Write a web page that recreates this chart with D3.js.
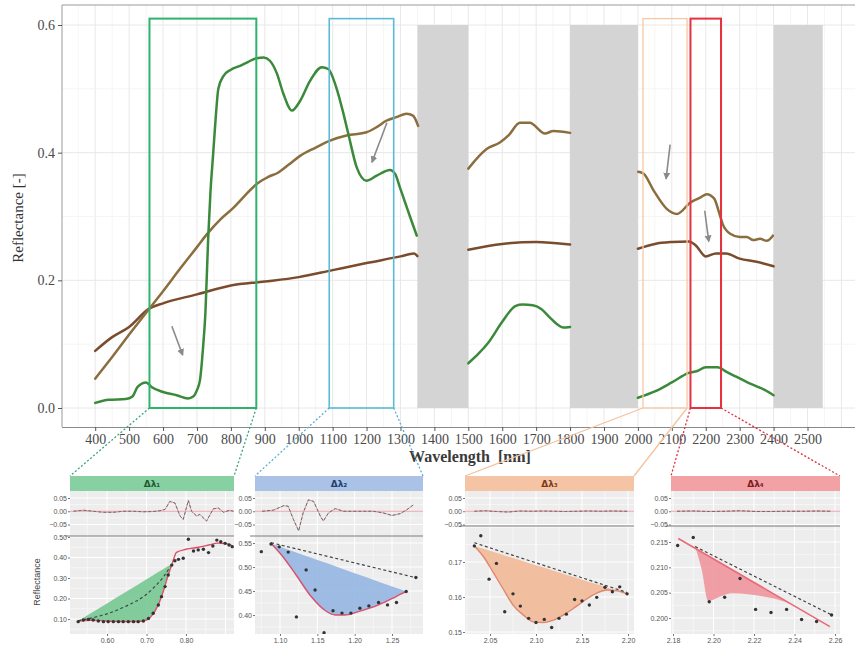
<!DOCTYPE html>
<html><head><meta charset="utf-8">
<script src="https://cdn.jsdelivr.net/npm/d3@7"></script>
<style>body{margin:0;background:#fff}svg{display:block}</style>
</head><body>
<svg id="c" width="856" height="649"></svg>
<script>
// ---------- main chart data ----------
const xTicks = d3.range(400, 2600, 100);
const yTicks = [0, 0.2, 0.4, 0.6];
const greenW = [400,440,490,510,525,550,566,600,640,674,689,700,709,718,725,733,740,748,756,763,778,800,827,850,876,897,915,935,955,980,1004,1033,1068,1087,1112,1130,1146,1171,1200,1230,1269,1285,1298,1315,1328,1348,1420,1500,1530,1560,1600,1640,1660,1690,1715,1740,1765,1780,1800,1900,2000,2050,2100,2150,2175,2200,2235,2260,2290,2320,2350,2375,2400];
const greenR = [0.008,0.013,0.014,0.018,0.033,0.040,0.033,0.025,0.020,0.015,0.018,0.028,0.044,0.095,0.150,0.265,0.340,0.400,0.460,0.500,0.520,0.530,0.536,0.542,0.548,0.549,0.544,0.525,0.492,0.466,0.481,0.512,0.534,0.531,0.500,0.465,0.430,0.377,0.356,0.364,0.373,0.366,0.346,0.320,0.300,0.270,null,0.070,0.085,0.103,0.135,0.160,0.162,0.161,0.155,0.142,0.130,0.126,0.127,null,0.016,0.026,0.040,0.055,0.058,0.064,0.064,0.057,0.049,0.041,0.034,0.028,0.020];
const oliveW = [400,450,500,560,600,650,700,729,770,808,840,876,910,940,970,1004,1050,1092,1141,1200,1230,1258,1290,1318,1337,1352,1420,1500,1555,1593,1620,1652,1681,1726,1751,1800,1900,2001,2017,2046,2085,2115,2155,2185,2203,2225,2240,2250,2272,2300,2321,2340,2360,2380,2398];
const oliveR = [0.046,0.080,0.115,0.156,0.183,0.218,0.252,0.272,0.296,0.314,0.332,0.351,0.362,0.369,0.381,0.395,0.408,0.419,0.427,0.432,0.440,0.450,0.456,0.461,0.458,0.442,null,0.375,0.406,0.416,0.428,0.447,0.447,0.430,0.434,0.431,null,0.370,0.367,0.341,0.312,0.304,0.322,0.330,0.335,0.328,0.305,0.288,0.273,0.268,0.268,0.263,0.265,0.262,0.270];
const brownW = [400,450,500,560,600,700,800,900,1000,1100,1200,1300,1340,1350,1420,1500,1600,1700,1800,1900,2000,2050,2100,2150,2170,2200,2230,2260,2300,2350,2400];
const brownR = [0.0895,0.111,0.127,0.156,0.164,0.178,0.192,0.198,0.205,0.216,0.227,0.2375,0.242,0.238,null,0.248,0.257,0.260,0.256,null,0.2495,0.257,0.260,0.261,0.255,0.2375,0.242,0.242,0.234,0.229,0.222];
const bandLo = [1350, 1800, 2400];
const bandHi = [1500, 2000, 2545];
const boxLo = [560, 1090, 2015, 2155];
const boxHi = [875, 1280, 2145, 2245];
const boxTop = 0.61;
const arrowFromW = [626, 1260, 2095, 2197];
const arrowFromR = [0.128, 0.447, 0.4125, 0.309];
const arrowToW = [658, 1216, 2083, 2209];
const arrowToR = [0.083, 0.385, 0.359, 0.261];

// ---------- zoom panels data ----------
const stripLabels = ["Δλ₁", "Δλ₂", "Δλ₃", "Δλ₄"];
const p1XTicks = [0.6, 0.7, 0.8], p1YTicks = [0.1, 0.2, 0.3, 0.4, 0.5];
const p2XTicks = [1.10, 1.15, 1.20, 1.25], p2YTicks = [0.40, 0.45, 0.50, 0.55];
const p3XTicks = [2.05, 2.10, 2.15, 2.20], p3YTicks = [0.15, 0.16, 0.17];
const p4XTicks = [2.18, 2.20, 2.22, 2.24, 2.26], p4YTicks = [0.200, 0.205, 0.210, 0.215];
const resTicks = [-0.05, 0, 0.05];

const p1DotW = [0.527,0.540,0.553,0.565,0.578,0.591,0.603,0.616,0.629,0.641,0.654,0.667,0.679,0.692,0.705,0.717,0.730,0.738,0.747,0.755,0.764,0.772,0.781,0.793,0.806,0.819,0.831,0.844,0.857,0.868,0.878,0.888,0.899,0.909,0.917];
const p1DotR = [0.087,0.095,0.098,0.095,0.090,0.087,0.087,0.087,0.087,0.087,0.087,0.087,0.087,0.090,0.103,0.128,0.168,0.209,0.258,0.315,0.363,0.384,0.391,0.396,0.489,0.432,0.437,0.440,0.424,0.456,0.485,0.477,0.469,0.461,0.453];
const p1FitW = [0.527,0.56,0.60,0.64,0.68,0.70,0.715,0.73,0.745,0.755,0.765,0.776,0.80,0.832,0.86,0.88,0.90,0.917];
const p1FitR = [0.090,0.094,0.090,0.088,0.088,0.095,0.12,0.17,0.25,0.315,0.37,0.425,0.44,0.45,0.462,0.47,0.468,0.458];
const p1HullW = [0.527, 0.765], p1HullR = [0.090, 0.37];
const p1DashW = [0.527,0.574,0.616,0.654,0.692,0.717,0.743,0.760];
const p1DashR = [0.092,0.111,0.136,0.168,0.209,0.250,0.306,0.355];
const p1ResW = [0.515,0.540,0.565,0.591,0.616,0.641,0.667,0.692,0.717,0.734,0.747,0.759,0.772,0.785,0.793,0.806,0.814,0.827,0.835,0.852,0.869,0.882,0.895,0.911,0.920];
const p1ResR = [0,0.004,0,-0.004,-0.004,0,0,-0.002,-0.001,0.002,0.007,0.037,0.031,-0.018,-0.031,0.041,0,-0.018,-0.012,-0.037,0.009,0.012,-0.004,0.004,0];

const p2DotW = [1.075,1.088,1.099,1.111,1.122,1.135,1.147,1.159,1.171,1.183,1.195,1.207,1.219,1.232,1.244,1.256,1.269,1.282];
const p2DotR = [0.532,0.548,0.542,0.531,0.396,0.494,0.452,0.363,0.409,0.404,0.404,0.414,0.419,0.426,0.421,0.426,0.449,0.478];
const p2FitW = [1.088,1.102,1.120,1.142,1.160,1.174,1.187,1.205,1.232,1.255,1.269];
const p2FitR = [0.549,0.525,0.487,0.438,0.410,0.400,0.400,0.407,0.421,0.438,0.449];
const p2HullW = [1.088, 1.269], p2HullR = [0.549, 0.449];
const p2DashW = [1.088, 1.282], p2DashR = [0.5506, 0.4777];
const p2ResW = [1.076,1.091,1.105,1.111,1.118,1.125,1.131,1.138,1.145,1.154,1.158,1.165,1.174,1.185,1.198,1.212,1.225,1.238,1.250,1.261,1.270,1.279];
const p2ResR = [0,0.004,0.021,0.019,-0.031,-0.074,-0.006,0.043,0.037,-0.018,-0.037,-0.006,0.010,0,0,0,0,-0.006,-0.016,-0.009,0.006,0.025];

const p3DotW = [2.033,2.040,2.049,2.057,2.066,2.075,2.083,2.092,2.100,2.109,2.117,2.125,2.133,2.142,2.150,2.158,2.166,2.175,2.183,2.191,2.199];
const p3DotR = [0.1746,0.1775,0.1651,0.1696,0.1558,0.1609,0.1574,0.1539,0.1527,0.1536,0.1513,0.1539,0.1551,0.1593,0.1589,0.1577,0.1599,0.1628,0.1615,0.1629,0.1609];
const p3FitW = [2.033,2.043,2.054,2.065,2.075,2.086,2.097,2.108,2.119,2.130,2.141,2.151,2.166,2.177,2.188,2.199];
const p3FitR = [0.1746,0.1715,0.1668,0.1620,0.1577,0.1549,0.1529,0.1527,0.1534,0.1549,0.1568,0.1587,0.1611,0.1620,0.1618,0.1609];
const p3HullW = [2.033, 2.199], p3HullR = [0.1746, 0.1609];
const p3DashW = [2.033, 2.199], p3DashR = [0.1755, 0.1613];
const p3ResW = [2.033,2.045,2.057,2.070,2.082,2.095,2.107,2.120,2.132,2.145,2.157,2.170,2.182,2.199];
const p3ResR = [0,0.002,-0.001,-0.003,0.001,0,0.001,0,-0.001,0,0.001,0,0.001,0];

const p4DotW = [2.1823,2.1900,2.1979,2.2055,2.2131,2.2208,2.2284,2.2361,2.2435,2.2509,2.2583];
const p4DotR = [0.2143,0.2159,0.2032,0.2041,0.2078,0.2017,0.2011,0.2017,0.1997,0.1993,0.2006];
const p4FitW = [2.1909,2.1942,2.1974,2.2048,2.2090,2.2172,2.2254,2.2353,2.2436,2.2518,2.2575];
const p4FitR = [0.2141,0.2095,0.2034,0.2045,0.2049,0.2047,0.2042,0.2032,0.2016,0.1996,0.1983];
const p4HullW = [2.1909, 2.2575], p4HullR = [0.2138, 0.1983];
const p4LineW = [2.1826, 2.2575], p4LineR = [0.2157, 0.1983];
const p4DashW = [2.1909, 2.2584], p4DashR = [0.2141, 0.2006];
const p4ResW = [2.182,2.190,2.198,2.206,2.213,2.221,2.228,2.236,2.244,2.251,2.258];
const p4ResR = [0,0.001,-0.001,0,0.002,-0.001,-0.001,0,0,0.001,0];

// ---------- drawing ----------
const svg = d3.select("#c");
const defs = svg.append("defs");
defs.append("marker").attr("id","ah").attr("markerUnits","userSpaceOnUse")
  .attr("markerWidth",8).attr("markerHeight",8).attr("refX",6).attr("refY",4).attr("orient","auto")
  .append("path").attr("d","M0,0.5 L7,4 L0,7.5 Z").attr("fill","#8a8a8a");

const P = {x0: 62, x1: 855, y0: 5, y1: 427};
const X = d3.scaleLinear().domain([400, 2500]).range([95.2, 807.5]);
const Y = d3.scaleLinear().domain([0, 0.6]).range([408, 25]);
const serif = "'Liberation Serif','Times New Roman',serif";

svg.append("rect").attr("x",P.x0).attr("y",P.y0).attr("width",P.x1-P.x0).attr("height",P.y1-P.y0).attr("fill","#fff");
const gridX = d3.range(300, 2700, 50).filter(v => X(v) > P.x0 && X(v) < P.x1);
svg.append("g").selectAll("line").data(gridX).join("line")
  .attr("x1",d=>X(d)).attr("x2",d=>X(d)).attr("y1",P.y0).attr("y2",P.y1)
  .attr("stroke", d => d % 100 === 0 ? "#e8e8e8" : "#f3f3f3").attr("stroke-width", d => d % 100 === 0 ? 1 : 0.8);
const gridY = d3.range(0, 7).map(i => i / 10);
svg.append("g").selectAll("line").data(gridY).join("line")
  .attr("x1",P.x0).attr("x2",P.x1).attr("y1",d=>Y(d)).attr("y2",d=>Y(d))
  .attr("stroke", (d,i) => i % 2 === 0 ? "#e8e8e8" : "#f3f3f3").attr("stroke-width", (d,i) => i % 2 === 0 ? 1 : 0.8);

// gray bands
svg.append("g").selectAll("rect").data(bandLo).join("rect")
  .attr("x",(d)=>X(d)).attr("width",(d,i)=>X(bandHi[i])-X(d))
  .attr("y",Y(0.6)).attr("height",Y(0)-Y(0.6)).attr("fill","#d4d4d4");

// spectra
function series(W, R) { return W.map((w,i)=>[w, R[i]]); }
const line = d3.line().defined(d=>d[1]!=null).x(d=>X(d[0])).y(d=>Y(d[1])).curve(d3.curveMonotoneX);
const specs = [[brownW, brownR, "#7a4c2d"], [oliveW, oliveR, "#8b6e3e"], [greenW, greenR, "#3b8a3b"]];
specs.forEach(s => svg.append("path").attr("d", line(series(s[0], s[1])))
  .attr("fill","none").attr("stroke",s[2]).attr("stroke-width",2.5).attr("stroke-linejoin","round").attr("stroke-linecap","round"));

// boxes
const boxCol = ["#2fb26c", "#5bbad6", "#f6c7a4", "#e5323e"];
const boxW = [2, 1.6, 1.3, 2];
boxLo.forEach((lo,i) => svg.append("rect").attr("x",X(lo)).attr("y",Y(boxTop))
  .attr("width",X(boxHi[i])-X(lo)).attr("height",Y(0)-Y(boxTop))
  .attr("fill","none").attr("stroke",boxCol[i]).attr("stroke-width",boxW[i]));

// arrows
arrowFromW.forEach((w,i) => svg.append("line")
  .attr("x1",X(w)).attr("y1",Y(arrowFromR[i])).attr("x2",X(arrowToW[i])).attr("y2",Y(arrowToR[i]))
  .attr("stroke","#8a8a8a").attr("stroke-width",1.6).attr("marker-end","url(#ah)"));

// panel border
svg.append("line").attr("x1",P.x0).attr("x2",P.x1).attr("y1",P.y0).attr("y2",P.y0).attr("stroke","#9a9a9a");
svg.append("line").attr("x1",P.x0).attr("x2",P.x0).attr("y1",P.y0).attr("y2",P.y1).attr("stroke","#9a9a9a");

// axes
const ax = svg.append("g").attr("transform",`translate(0,${P.y1})`)
  .call(d3.axisBottom(X).tickValues(xTicks).tickSize(4).tickPadding(3).tickFormat(d3.format("d")));
ax.select(".domain").attr("d",`M${P.x0},0.5H${P.x1}`).attr("stroke","#8a8a8a");
ax.selectAll("line").attr("stroke","#555");
ax.selectAll("text").attr("font-family",serif).attr("font-size",14).attr("fill","#4a4a4a");
const ay = svg.append("g").attr("transform",`translate(${P.x0},0)`)
  .call(d3.axisLeft(Y).tickValues(yTicks).tickSize(4).tickPadding(3).tickFormat(d3.format(".1f")));
ay.select(".domain").remove();
ay.selectAll("line").attr("stroke","#555");
ay.selectAll("text").attr("font-family",serif).attr("font-size",14).attr("fill","#4a4a4a");
svg.append("text").attr("x",470).attr("y",462).attr("text-anchor","middle").attr("xml:space","preserve")
  .attr("font-family",serif).attr("font-size",16).attr("font-weight","bold").attr("fill","#3a3a3a").text("Wavelength  [nm]");
svg.append("text").attr("transform","translate(23,218) rotate(-90)").attr("text-anchor","middle")
  .attr("font-family",serif).attr("font-size",15).attr("fill","#333").text("Reflectance [-]");

// ---------- zoom panels ----------
const sans = "'Liberation Sans',Arial,sans-serif";
const panels = [
  {x0:70, x1:234, resY1:536, xd:[0.6,0.8], xr:[107,186], yd:[0.1,0.5], yr:[619,537], xt:p1XTicks, yt:p1YTicks, yf:".2f",
   strip:"#86d0a2", stxt:"#1f5a33", fill:"#6fc58c", fit:"#e0506a", drawFit:true,
   dotW:p1DotW, dotR:p1DotR, fitW:p1FitW, fitR:p1FitR, hullW:p1HullW, hullR:p1HullR, dashW:p1DashW, dashR:p1DashR, resW:p1ResW, resR:p1ResR},
  {x0:255, x1:423, resY1:536, xd:[1.10,1.25], xr:[280,392], yd:[0.40,0.55], yr:[615,543], xt:p2XTicks, yt:p2YTicks, yf:".2f",
   strip:"#a9c2e6", stxt:"#22406e", fill:"#8fb1e0", fit:"#d9506c", drawFit:true,
   dotW:p2DotW, dotR:p2DotR, fitW:p2FitW, fitR:p2FitR, hullW:p2HullW, hullR:p2HullR, dashW:p2DashW, dashR:p2DashR, resW:p2ResW, resR:p2ResR},
  {x0:465, x1:634, resY1:526, xd:[2.05,2.20], xr:[490,628], yd:[0.15,0.17], yr:[632,562], xt:p3XTicks, yt:p3YTicks, yf:".2f",
   strip:"#f5c4a4", stxt:"#7a3b1c", fill:"#f1b592", fit:"#e2866e", drawFit:true,
   dotW:p3DotW, dotR:p3DotR, fitW:p3FitW, fitR:p3FitR, hullW:p3HullW, hullR:p3HullR, dashW:p3DashW, dashR:p3DashR, resW:p3ResW, resR:p3ResR},
  {x0:671, x1:840, resY1:526, xd:[2.18,2.26], xr:[673,835], yd:[0.200,0.215], yr:[618,542], xt:p4XTicks, yt:p4YTicks, yf:".3f",
   strip:"#f2a1a5", stxt:"#7a1c22", fill:"#f08f98", fit:"#e86a78", drawFit:false, lineW:p4LineW, lineR:p4LineR,
   dotW:p4DotW, dotR:p4DotR, fitW:p4FitW, fitR:p4FitR, hullW:p4HullW, hullR:p4HullR, dashW:p4DashW, dashR:p4DashR, resW:p4ResW, resR:p4ResR}
];
const yBot = 634, stripY0 = 476, stripY1 = 491;

// connectors
const connCol = ["#3aa57a", "#5aaed0", "#f3c3a0", "#e0303c"];
const connDash = ["2,2", "2,2", null, "2,2"];
panels.forEach((p,i) => {
  [[boxLo[i], p.x0], [boxHi[i], p.x1]].forEach(c => {
    const l = svg.append("line").attr("x1",X(c[0])).attr("y1",Y(0)).attr("x2",c[1]).attr("y2",stripY0)
      .attr("stroke",connCol[i]).attr("stroke-width",1.3);
    if (connDash[i]) l.attr("stroke-dasharray",connDash[i]);
  });
});

panels.forEach((p,i) => {
  const g = svg.append("g");
  const w = p.x1 - p.x0;
  const xs = d3.scaleLinear().domain(p.xd).range(p.xr);
  const ys = d3.scaleLinear().domain(p.yd).range(p.yr);
  const rs = d3.scaleLinear().domain([-0.05, 0.05]).range([524.5, 498]);
  // strip
  g.append("rect").attr("x",p.x0).attr("y",stripY0).attr("width",w).attr("height",stripY1-stripY0).attr("fill",p.strip);
  g.append("text").attr("x",(p.x0+p.x1)/2).attr("y",487).attr("text-anchor","middle")
    .attr("font-family","'DejaVu Sans',sans-serif").attr("font-weight","bold").attr("font-size",9).attr("fill",p.stxt).text(stripLabels[i]);
  // backgrounds
  g.append("rect").attr("x",p.x0).attr("y",stripY1).attr("width",w).attr("height",p.resY1-stripY1).attr("fill","#ededed");
  g.append("rect").attr("x",p.x0).attr("y",p.resY1).attr("width",w).attr("height",yBot-p.resY1).attr("fill","#ededed");
  // clip paths
  defs.append("clipPath").attr("id","cr"+i).append("rect").attr("x",p.x0).attr("y",stripY1).attr("width",w).attr("height",p.resY1-stripY1);
  defs.append("clipPath").attr("id","cm"+i).append("rect").attr("x",p.x0).attr("y",p.resY1).attr("width",w).attr("height",yBot-p.resY1);
  // grid
  const sx = p.xt[1]-p.xt[0], sy = p.yt[1]-p.yt[0];
  const gxv = d3.range(-8, 2*p.xt.length+8).map(k => p.xt[0] + k*sx/2).filter(v => xs(v) > p.x0 && xs(v) < p.x1);
  const gyv = d3.range(-8, 2*p.yt.length+8).map(k => p.yt[0] + k*sy/2).filter(v => ys(v) > p.resY1 && ys(v) < yBot);
  const gm = g.append("g");
  gxv.forEach((v,k) => {
    const major = Math.abs((v - p.xt[0]) / sx - Math.round((v - p.xt[0]) / sx)) < 1e-6;
    gm.append("line").attr("x1",xs(v)).attr("x2",xs(v)).attr("y1",stripY1).attr("y2",yBot)
      .attr("stroke","#fff").attr("stroke-width", major ? 1 : 0.5);
  });
  gyv.forEach(v => {
    const major = Math.abs((v - p.yt[0]) / sy - Math.round((v - p.yt[0]) / sy)) < 1e-6;
    gm.append("line").attr("x1",p.x0).attr("x2",p.x1).attr("y1",ys(v)).attr("y2",ys(v))
      .attr("stroke","#fff").attr("stroke-width", major ? 1 : 0.5);
  });
  [-0.05, -0.025, 0, 0.025, 0.05].forEach((v,k) => gm.append("line").attr("x1",p.x0).attr("x2",p.x1)
    .attr("y1",rs(v)).attr("y2",rs(v)).attr("stroke","#fff").attr("stroke-width", k % 2 === 0 ? 1 : 0.5));

  // residuals
  const gr = g.append("g").attr("clip-path",`url(#cr${i})`);
  gr.append("line").attr("x1",p.x0).attr("x2",p.x1).attr("y1",rs(0)).attr("y2",rs(0)).attr("stroke","#eda3ae").attr("stroke-width",1);
  const rl = d3.line().x((d,k)=>xs(p.resW[k])).y(d=>rs(d)).curve(d3.curveLinear);
  gr.append("path").attr("d",rl(p.resR)).attr("fill","none").attr("stroke","#d88c98").attr("stroke-width",0.8);
  gr.append("path").attr("d",rl(p.resR)).attr("fill","none").attr("stroke","#6e6e6e").attr("stroke-width",1).attr("stroke-dasharray","3,2");

  // divider
  g.append("line").attr("x1",p.x0-5).attr("x2",p.x1).attr("y1",p.resY1).attr("y2",p.resY1).attr("stroke","#7d7d7d").attr("stroke-width",1);

  // main pane
  const gmn = g.append("g").attr("clip-path",`url(#cm${i})`);
  const hull = d3.scaleLinear().domain(p.hullW).range(p.hullR);
  const fitPts = p.fitW.map((w,k)=>[w,p.fitR[k]]).filter(d => d[0] >= p.hullW[0]-1e-9 && d[0] <= p.hullW[1]+1e-9);
  const area = d3.area().x(d=>xs(d[0])).y0(d=>ys(hull(d[0]))).y1(d=>ys(d[1])).curve(d3.curveMonotoneX);
  gmn.append("path").attr("d",area(fitPts)).attr("fill",p.fill).attr("fill-opacity",0.85);
  const ln = d3.line().x(d=>xs(d[0])).y(d=>ys(d[1])).curve(d3.curveMonotoneX);
  if (p.drawFit) {
    gmn.append("path").attr("d",ln(p.fitW.map((w,k)=>[w,p.fitR[k]]))).attr("fill","none").attr("stroke",p.fit).attr("stroke-width",1.4);
  } else {
    gmn.append("path").attr("d",ln(p.lineW.map((w,k)=>[w,p.lineR[k]]))).attr("fill","none").attr("stroke",p.fit).attr("stroke-width",1.6);
  }
  gmn.append("path").attr("d",ln(p.dashW.map((w,k)=>[w,p.dashR[k]]))).attr("fill","none")
    .attr("stroke","#444").attr("stroke-width",1.2).attr("stroke-dasharray","3,2.5");
  gmn.selectAll("circle").data(p.dotW).join("circle").attr("cx",d=>xs(d)).attr("cy",(d,k)=>ys(p.dotR[k])).attr("r",1.7).attr("fill","#333");

  // axes
  function styleAx(a){ a.select(".domain").remove(); a.selectAll("line").attr("stroke","#777");
    a.selectAll("text").attr("font-family",sans).attr("font-size",7).attr("fill","#555"); }
  styleAx(g.append("g").attr("transform",`translate(${p.x0},0)`)
    .call(d3.axisLeft(rs).tickValues(resTicks).tickSize(2).tickPadding(1).tickFormat(d3.format(".2f"))));
  styleAx(g.append("g").attr("transform",`translate(${p.x0},0)`)
    .call(d3.axisLeft(ys).tickValues(p.yt).tickSize(2).tickPadding(1).tickFormat(d3.format(p.yf))));
  styleAx(g.append("g").attr("transform",`translate(0,${yBot})`)
    .call(d3.axisBottom(xs).tickValues(p.xt).tickSize(2).tickPadding(2).tickFormat(d3.format(".2f"))));
});
svg.append("text").attr("transform","translate(40,582) rotate(-90)").attr("text-anchor","middle")
  .attr("font-family",sans).attr("font-size",9).attr("fill","#444").text("Reflectance");
</script>
</body></html>
